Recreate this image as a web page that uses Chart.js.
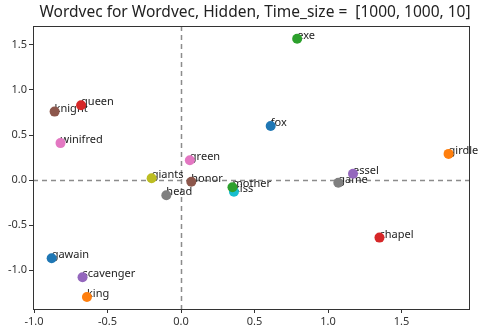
<!DOCTYPE html>
<html>
<head>
<meta charset="utf-8">
<script src="https://cdn.jsdelivr.net/npm/chart.js@4"></script>
<style>
  html, body { margin: 0; padding: 0; background: #fff; }
  #wrap { width: 480px; height: 334px; }
</style>
</head>
<body>
<div id="wrap"><canvas id="myChart"></canvas></div>
<script>
const words = ['fox', 'girdle', 'exe', 'queen', 'essel', 'knight', 'winifred', 'game', 'giants', 'kiss',
               'gawain', 'king', 'mother', 'chapel', 'scavenger', 'honor', 'green', 'head'];
const xs = [0.61, 1.82, 0.79, -0.68, 1.17, -0.86, -0.82, 1.07, -0.20, 0.36,
            -0.88, -0.64, 0.35, 1.35, -0.67, 0.07, 0.06, -0.10];
const ys = [0.60, 0.29, 1.57, 0.83, 0.07, 0.76, 0.41, -0.03, 0.02, -0.13,
            -0.87, -1.30, -0.08, -0.64, -1.08, -0.02, 0.22, -0.17];
const xTicks = [-1.0, -0.5, 0.0, 0.5, 1.0, 1.5];
const yTicks = [-1.0, -0.5, 0.0, 0.5, 1.0, 1.5];
const title = 'Wordvec for Wordvec, Hidden, Time_size =  [1000, 1000, 10]';

const tab10 = ['#1f77b4', '#ff7f0e', '#2ca02c', '#d62728', '#9467bd',
               '#8c564b', '#e377c2', '#7f7f7f', '#bcbd22', '#17becf'];
const colors = words.map((w, i) => tab10[i % 10]);

const fontFamily = "'Noto Sans', sans-serif";

// dashed zero lines, frame, labels and title
const extras = {
    id: 'extras',
    beforeDatasetsDraw(chart) {
        const { ctx, chartArea: a, scales: { x, y } } = chart;
        ctx.save();
        ctx.strokeStyle = '#8c8c8c';
        ctx.lineWidth = 1.5;
        ctx.setLineDash([5, 4]);
        const x0 = Math.round(x.getPixelForValue(0)) + 0.5;
        const y0 = Math.round(y.getPixelForValue(0)) + 0.5;
        ctx.beginPath();
        ctx.moveTo(x0, a.top); ctx.lineTo(x0, a.bottom);
        ctx.moveTo(a.left, y0); ctx.lineTo(a.right, y0);
        ctx.stroke();
        ctx.setLineDash([]);
        // word labels (points get drawn on top of them)
        ctx.fillStyle = '#222';
        ctx.font = '11px ' + fontFamily;
        ctx.textBaseline = 'alphabetic';
        ctx.textAlign = 'left';
        words.forEach((w, i) => {
            ctx.fillText(w, x.getPixelForValue(xs[i]), y.getPixelForValue(ys[i]));
        });
        ctx.restore();
    },
    afterDraw(chart) {
        const { ctx, chartArea: a } = chart;
        ctx.save();
        ctx.strokeStyle = '#333';
        ctx.lineWidth = 1;
        ctx.strokeRect(Math.round(a.left) + 0.5, Math.round(a.top) + 0.5,
                       Math.round(a.right - a.left), Math.round(a.bottom - a.top));
        ctx.fillStyle = '#222';
        ctx.font = '15.5px ' + fontFamily;
        ctx.textAlign = 'center';
        ctx.textBaseline = 'middle';
        ctx.fillText(title, (a.left + a.right) / 2 + 4, 13);
        ctx.restore();
    }
};

new Chart(document.getElementById('myChart'), {
    type: 'scatter',
    data: {
        datasets: [{
            data: words.map((w, i) => ({ x: xs[i], y: ys[i] })),
            backgroundColor: colors,
            borderWidth: 0,
            pointRadius: 5,
            pointHoverRadius: 5
        }]
    },
    options: {
        responsive: true,
        maintainAspectRatio: false,
        animation: false,
        layout: { padding: { top: 26, right: 11, left: 0, bottom: 0 } },
        plugins: {
            legend: { display: false },
            tooltip: { enabled: false }
        },
        scales: {
            x: {
                type: 'linear',
                min: -1.007,
                max: 1.959,
                afterBuildTicks: s => { s.ticks = xTicks.map(v => ({ value: v })); },
                afterFit: s => { s.height = 25; },
                grid: { display: true, drawOnChartArea: false, drawTicks: true, tickLength: 4, color: '#333' },
                border: { display: true, color: '#333' },
                ticks: {
                    color: '#333',
                    font: { family: fontFamily, size: 11 },
                    padding: 2,
                    maxRotation: 0,
                    callback: v => v.toFixed(1)
                }
            },
            y: {
                type: 'linear',
                min: -1.433,
                max: 1.711,
                afterBuildTicks: s => { s.ticks = yTicks.map(v => ({ value: v })); },
                afterFit: s => { s.width = 33; },
                grid: { display: true, drawOnChartArea: false, drawTicks: true, tickLength: 4, color: '#333' },
                border: { display: true, color: '#333' },
                ticks: {
                    color: '#333',
                    font: { family: fontFamily, size: 11 },
                    padding: 2,
                    callback: v => v.toFixed(1)
                }
            }
        }
    },
    plugins: [extras]
});
</script>
</body>
</html>
